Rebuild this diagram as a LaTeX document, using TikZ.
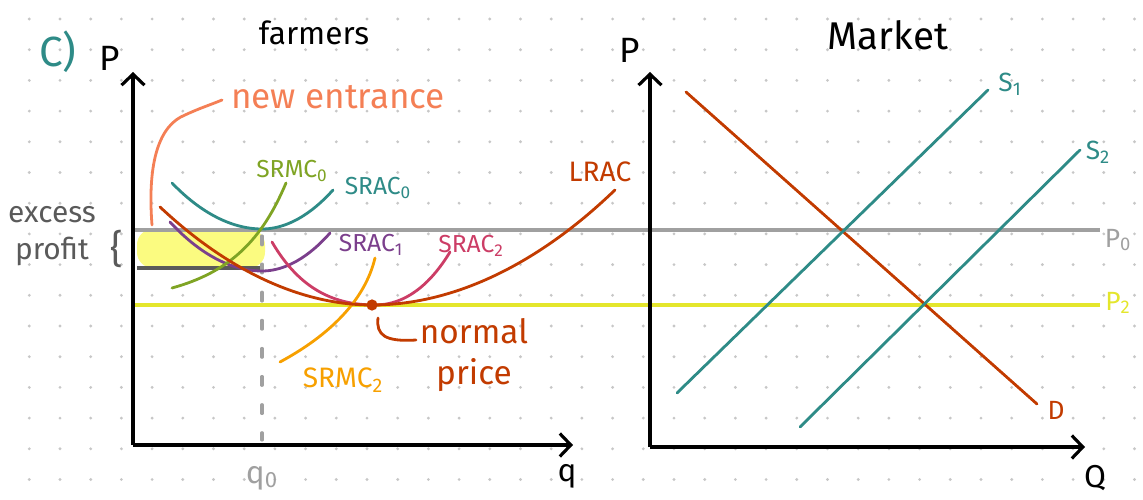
\documentclass[tikz,border=0pt]{standalone}
\usepackage{fontspec}
\setmainfont{Fira Sans}
\usetikzlibrary{arrows.meta, positioning, calc}
\definecolor{tealc}{HTML}{2E8B87}
\definecolor{rustc}{HTML}{C23B00}
\definecolor{greyc}{HTML}{A0A0A0}
\definecolor{darkg}{HTML}{5A5A5A}
\definecolor{lemon}{HTML}{E4E62C}
\definecolor{hilite}{HTML}{FBFB80}
\definecolor{coral}{HTML}{F47F55}
\definecolor{olive}{HTML}{7FA424}
\definecolor{plum}{HTML}{7B3F8C}
\definecolor{rose}{HTML}{CC3D66}
\definecolor{amber}{HTML}{F7A000}
\tikzset{
  axis/.style={line width=1.8pt, -{Straight Barb[length=2.2mm,width=4.6mm,line width=1.8pt]}},
  curve/.style={line width=1.6pt, line cap=round},
  lvl/.style={line width=2pt},
  lbl/.style={font=\fontsize{14}{15}\selectfont, inner sep=1pt},
  big/.style={font=\fontsize{18}{20}\selectfont, inner sep=1pt},
  subz/.style={font=\fontsize{15}{16}\selectfont, inner sep=1pt},
}

\begin{document}
\begin{tikzpicture}[x=0.02cm, y=-0.02cm]
  \useasboundingbox (0,0) rectangle (1143,500);
  % dot grid
  \foreach \i in {0,...,36}
    \foreach \j in {0,...,15}
      \fill[black!22] ({29.3+30.7*\i},{19+30.7*\j}) circle (0.9pt);

  % farmers panel
  \coordinate (fo) at (133,445);
  \coordinate (ftop) at (133,72);
  \coordinate (fright) at (573,445);
  \fill[hilite, rounded corners=9pt] (137,229) rectangle (265,268);
  \draw[lvl, greyc] (133,230) coordinate (p0l) -- (1100,230) coordinate (p0r);
  \draw[lvl, lemon] (133,305) coordinate (p2l) -- (1100,305) coordinate (p2r);
  \draw[lvl, darkg] (137,268) -- (262,268);
  \draw[line width=1.8pt, greyc, dash pattern=on 5pt off 11pt, line cap=round] (262,236) -- (262,440);
  \draw[axis] (fo) -- (ftop);
  \draw[axis] (fo) -- (fright);

  \draw[curve, coral] (152,225) .. controls (147,160) and (160,125) .. (185,115) .. controls (200,108) and (210,105) .. (222,100);
  \draw[curve, tealc] (172,183) parabola bend (262,229) (333,190);
  \draw[curve, plum] (170,222) parabola bend (262,271) (330,233);
  \draw[curve, rose] (272,242) .. controls (300,290) and (335,305) .. (375,305) .. controls (405,305) and (430,285) .. (450,252);
  \draw[curve, olive] (172,288) .. controls (230,272) and (262,240) .. (286,183);
  \draw[curve, amber] (280,362) .. controls (330,335) and (365,300) .. (375,258);
  \draw[curve, rustc] (160,207) parabola bend (372,305) (615,190);
  \fill[rustc] (372,305) circle (3.2pt);
  \draw[curve, rustc] (378,318) .. controls (376,335) and (385,342) .. (416,340);

  \node[font=\fontsize{24}{26}\selectfont, text=tealc] (part) at (58,52) {C)};
  \node[font=\fontsize{20}{22}\selectfont] (fp) at (110,58) {P};
  \node[big] (ftitle) at (314,33) {farmers};
  \node[font=\fontsize{20}{22}\selectfont, text=coral] (entr) at (338,97) {new entrance};
  \node[font=\fontsize{17}{21}\selectfont, text=darkg, align=center] (excess) at (52,236) {excess\\profit};
  \node[font=\fontsize{22}{24}\selectfont, text=darkg] (brace) at (117,249) {\{};
  \node[lbl, text=olive] (srmc0) at (292,171) {SRMC\textsubscript{0}};
  \node[lbl, text=tealc] (srac0) at (378,188) {SRAC\textsubscript{0}};
  \node[lbl, text=plum] (srac1) at (371,245) {SRAC\textsubscript{1}};
  \node[lbl, text=rose] (srac2) at (471,246) {SRAC\textsubscript{2}};
  \node[lbl, text=rustc, font=\fontsize{16}{17}\selectfont] (lrac) at (600,172) {LRAC};
  \node[lbl, text=amber, font=\fontsize{16}{17}\selectfont] (srmc2) at (343,380) {SRMC\textsubscript{2}};
  \node[font=\fontsize{19}{23}\selectfont, text=rustc, align=center] (normal) at (474,355) {normal\\price};
  \node[big, text=greyc] (q0) at (262,478) {q\textsubscript{0}};
  \node[big] (fq) at (567,476) {q};

  % market panel
  \coordinate (mo) at (650,447);
  \coordinate (mtop) at (650,72);
  \coordinate (mright) at (1085,447);
  \draw[axis] (mo) -- (mtop);
  \draw[axis] (mo) -- (mright);
  \draw[curve, rustc] (686,92) coordinate (d1) -- (1037,404) coordinate (d2);
  \draw[curve, tealc] (677,393) coordinate (s1a) -- (988,90) coordinate (s1b);
  \draw[curve, tealc] (800,427) coordinate (s2a) -- (1080,150) coordinate (s2b);

  \node[font=\fontsize{20}{22}\selectfont] (mp) at (630,50) {P};
  \node[font=\fontsize{22}{24}\selectfont] (mtitle) at (888,35) {Market};
  \node[subz, text=tealc] (s1) at (1010,84) {S\textsubscript{1}};
  \node[subz, text=tealc] (s2) at (1098,152) {S\textsubscript{2}};
  \node[subz, text=greyc] (p0) at (1118,240) {P\textsubscript{0}};
  \node[subz, text=lemon] (p2) at (1118,303) {P\textsubscript{2}};
  \node[subz, text=rustc] (dlab) at (1056,410) {D};
  \node[big] (mq) at (1095,478) {Q};
\end{tikzpicture}
\end{document}
